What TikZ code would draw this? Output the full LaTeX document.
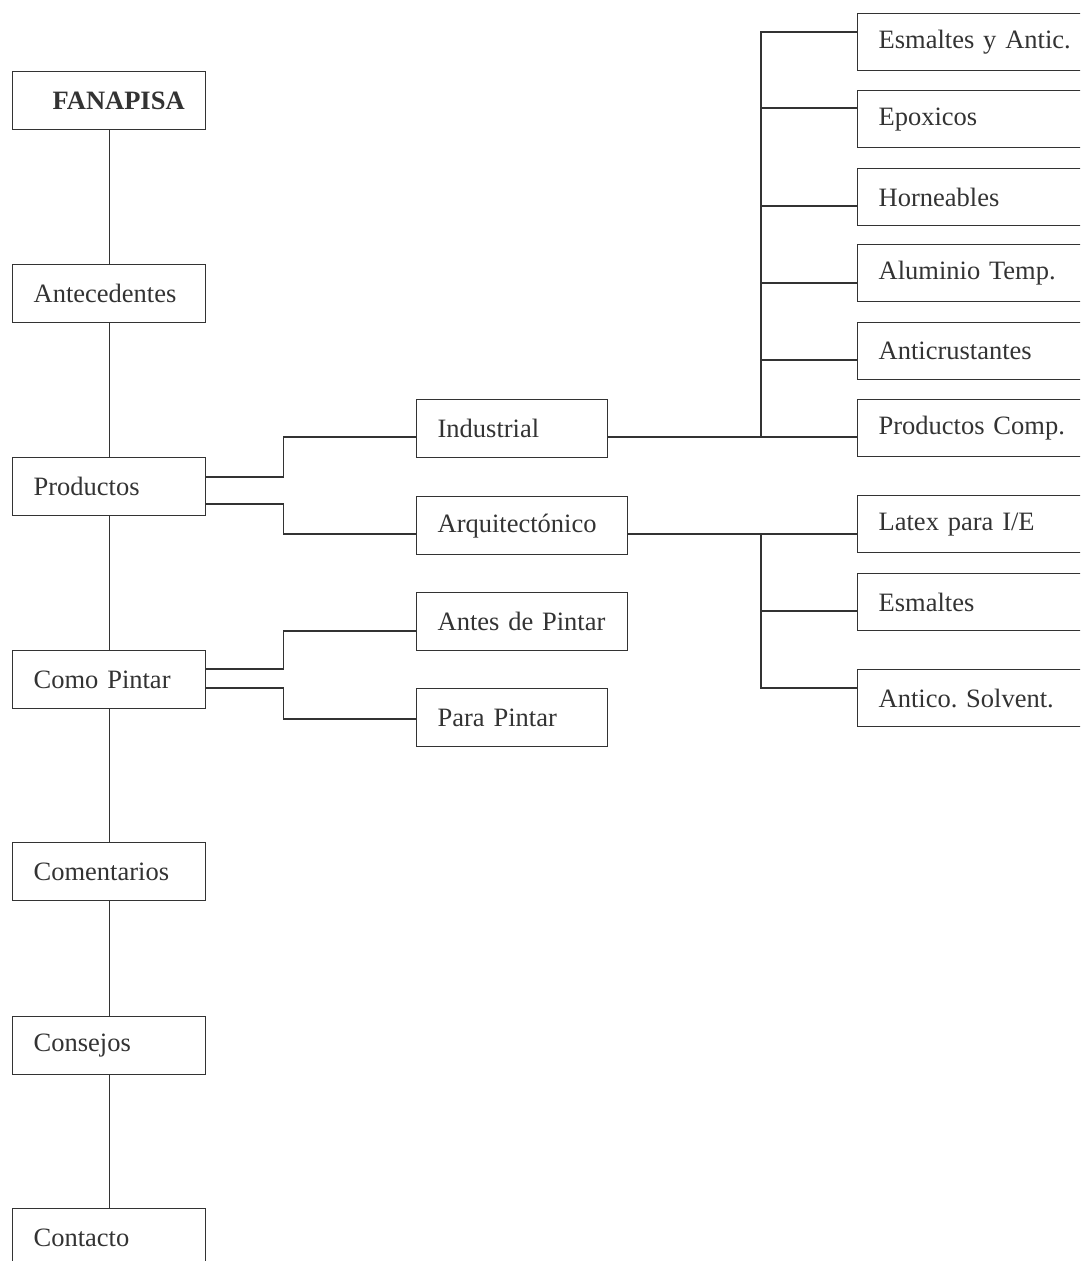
\documentclass[tikz,border=0pt]{standalone}
\usepackage{fontspec}
\setmainfont{Liberation Serif}
\usetikzlibrary{calc}
\definecolor{ink}{HTML}{333333}
\tikzset{
  box/.style={draw=ink, line width=1.3pt, rectangle, anchor=north west, inner xsep=21pt, inner ysep=0pt,
    align=left, text=ink, font=\fontsize{26.5}{30}\selectfont\frenchspacing},
  wire/.style={draw=ink, line width=1.3pt}
}
\newcommand{\bx}[6]{\node[box, minimum height=#5pt, text width=#4pt-42pt] (#1) at (#2pt,-#3pt) {#6};}
\begin{document}
\begin{tikzpicture}
\useasboundingbox (0,0) rectangle (1080pt,-1261pt);
\clip (0,0) rectangle (1080pt,-1261pt);
% left column
\bx{fan}{12}{71}{193}{58}{\hspace*{19pt}\textbf{FANAPISA}}
\bx{ant}{12}{264}{193}{58}{Antecedentes}
\bx{prod}{12}{457}{193}{58}{Productos}
\bx{como}{12}{650}{193}{58}{Como Pintar}
\bx{coment}{12}{842}{193}{58}{Comentarios}
\bx{cons}{12}{1016}{193}{58}{Consejos}
\bx{cont}{12}{1208}{193}{58}{Contacto}
% middle
\bx{ind}{416}{399}{191}{58}{Industrial}
\bx{arq}{416}{496}{211}{58}{Arquitectónico}
\bx{antes}{416}{592}{211}{58}{Antes de Pintar}
\bx{para}{416}{688}{191}{58}{Para Pintar}
% right
\bx{e1}{857}{13}{250}{57}{Esmaltes y Antic.}
\bx{e2}{857}{90}{250}{57}{Epoxicos}
\bx{e3}{857}{168}{250}{57}{Horneables}
\bx{e4}{857}{244}{250}{57}{Aluminio Temp.}
\bx{e5}{857}{322}{250}{57}{Anticrustantes}
\bx{e6}{857}{399}{250}{57}{Productos Comp.}
\bx{a1}{857}{495}{250}{57}{Latex para I/E}
\bx{a2}{857}{573}{250}{57}{Esmaltes}
\bx{a3}{857}{669}{250}{57}{Antico. Solvent.}
% spine
\draw[wire] (fan.south) -- (ant.north);
\draw[wire] (ant.south) -- (prod.north);
\draw[wire] (prod.south) -- (como.north);
\draw[wire] (como.south) -- (coment.north);
\draw[wire] (coment.south) -- (cons.north);
\draw[wire] (cons.south) -- (cont.north);
% productos branches
\draw[wire] ([yshift=-20pt]prod.north east) -- ++(77pt,0) |- ([yshift=-38pt]ind.north west);
\draw[wire] ([yshift=-47pt]prod.north east) -- ++(77pt,0) |- ([yshift=-38pt]arq.north west);
% como pintar branches
\draw[wire] ([yshift=-19pt]como.north east) -- ++(77pt,0) |- ([yshift=-39pt]antes.north west);
\draw[wire] ([yshift=-38pt]como.north east) -- ++(77pt,0) |- ([yshift=-31pt]para.north west);
% industrial
\coordinate (i1) at ([yshift=-38pt]ind.north east);
\draw[wire] (i1) -- (i1 -| e6.west);
\coordinate (s1) at (761pt,-437pt);
\draw[wire] (s1) |- ([yshift=-19pt]e1.north west);
\draw[wire] (s1) |- ([yshift=-18pt]e2.north west);
\draw[wire] (s1) |- ([yshift=-38pt]e3.north west);
\draw[wire] (s1) |- ([yshift=-39pt]e4.north west);
\draw[wire] (s1) |- ([yshift=-38pt]e5.north west);
% arquitectonico
\coordinate (r1) at ([yshift=-38pt]arq.north east);
\draw[wire] (r1) -- (r1 -| a1.west);
\coordinate (s2) at (761pt,-534pt);
\draw[wire] (s2) |- ([yshift=-38pt]a2.north west);
\draw[wire] (s2) |- ([yshift=-19pt]a3.north west);
\end{tikzpicture}
\end{document}
